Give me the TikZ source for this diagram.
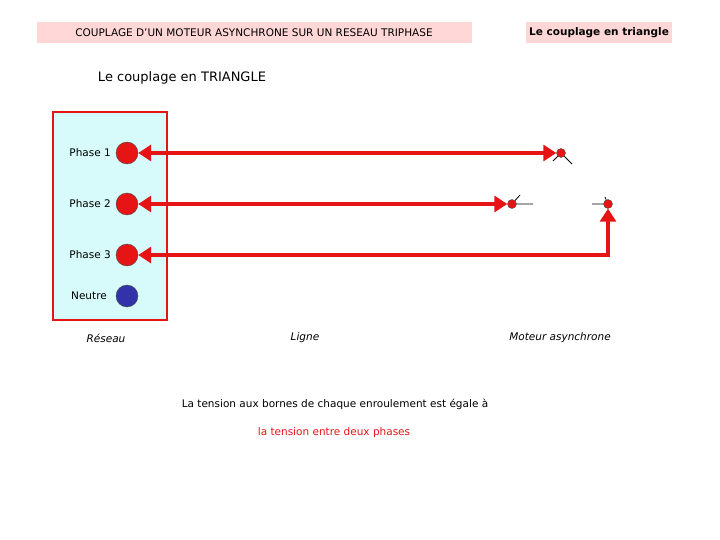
\documentclass[tikz,border=0pt]{standalone}
\usepackage{fontspec}
\setmainfont{DejaVu Sans}
\usetikzlibrary{arrows.meta}
\definecolor{titlepink}{RGB}{255,215,215}
\definecolor{reseaufill}{RGB}{215,250,250}
\definecolor{phasered}{RGB}{230,20,20}
\definecolor{neutreblue}{RGB}{50,50,170}
\tikzset{
  phaseline/.style={phasered,line width=3.5pt,{Triangle[length=13pt,width=16pt]}-{Triangle[length=13pt,width=16pt]}},
  phasedot/.style={circle,draw=black!70,fill=phasered,minimum size=22pt,inner sep=0pt},
  borne/.style={circle,draw=black!70,fill=phasered,minimum size=9pt,inner sep=0pt},
  lbl/.style={font=\fontsize{10.5}{12}\selectfont,inner sep=1pt},
  leg/.style={font=\fontsize{10.5}{12}\selectfont\itshape,inner sep=1pt},
}
\begin{document}
\begin{tikzpicture}[x=1pt,y=-1pt]
\useasboundingbox (0,0) rectangle (720,540);

% titres
\node[fill=titlepink,lbl,minimum width=435,minimum height=21] (titre) at (254,33) {COUPLAGE D'UN MOTEUR ASYNCHRONE SUR UN RESEAU TRIPHASE};
\node[fill=titlepink,font=\fontsize{10.5}{12}\selectfont\bfseries,inner sep=1pt,minimum width=146,minimum height=21] (titre2) at (599,33) {Le couplage en triangle};
\node[font=\fontsize{13}{15}\selectfont] (sous) at (182,78) {Le couplage en TRIANGLE};

% reseau
\draw[phasered,line width=2.5pt,fill=reseaufill] (53,112) rectangle (167,320);
\node[phasedot] (p1) at (127,153) {};
\node[phasedot] (p2) at (127,204) {};
\node[phasedot] (p3) at (127,255) {};
\node[phasedot,fill=neutreblue] (n) at (127,296) {};
\node[lbl,anchor=east] at (112,153) {Phase 1};
\node[lbl,anchor=east] at (112,204) {Phase 2};
\node[lbl,anchor=east] at (112,255) {Phase 3};
\node[lbl,anchor=east] at (108,296) {Neutre};

% bornes du moteur
\node[borne] (b1) at (561,153) {};
\node[borne] (b2) at (512,204) {};
\node[borne] (b3) at (608,204) {};
\draw[black,line width=0.8pt] (b1) -- ++(11,11) (b1) -- ++(-8,8);
\draw[black,line width=0.8pt] (b2) -- ++(21,0) (b2) -- ++(8,-9);
\draw[black,line width=0.8pt] (b3) -- ++(-16,0) (b3) -- ++(-3,-7);

% lignes
\draw[phaseline] (p1) -- (b1);
\draw[phaseline] (p2) -- (b2);
\draw[phaseline] (p3) -| (b3);

% legendes
\node[leg] at (106,338) {Réseau};
\node[leg] at (305,338) {Ligne};
\node[leg] at (560,338) {Moteur asynchrone};
\node[lbl] at (335,404) {La tension aux bornes de chaque enroulement est égale à};
\node[lbl,text=phasered] at (334,433) {la tension entre deux phases};
\end{tikzpicture}
\end{document}
